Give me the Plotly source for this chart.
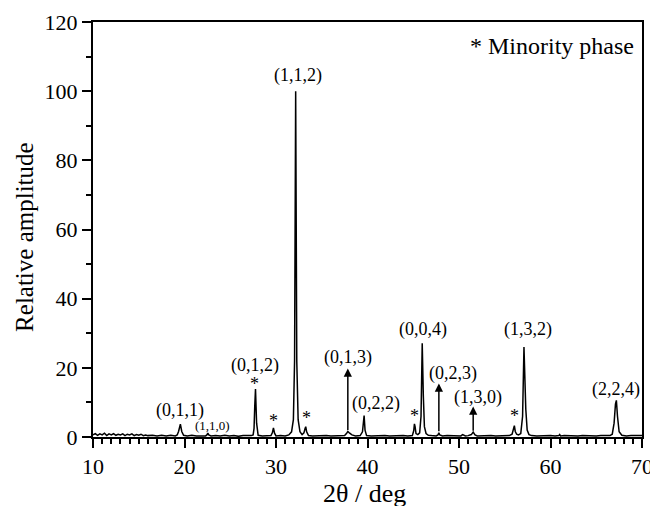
import plotly.graph_objects as go

# Diffraction trace (2theta in degrees, relative amplitude)
two_theta = [
    10.0, 10.25, 10.5, 10.75, 11.0, 11.25, 11.5, 11.75, 12.0, 12.25, 12.5, 12.75,
    13.0, 13.25, 13.5, 13.75, 14.0, 14.25, 14.5, 14.75, 15.0, 15.25, 15.5, 15.75,
    16.0, 16.5, 17.0, 17.5, 18.0, 18.5, 19.0,
    19.2, 19.35, 19.45, 19.55, 19.7, 19.9,
    20.3, 20.8, 21.3, 21.8, 22.3, 22.45, 22.55, 22.65, 22.9,
    23.4, 23.9, 24.4, 24.9, 25.4, 25.9, 26.4, 26.9, 27.3,
    27.5, 27.6, 27.68, 27.76, 27.88, 28.05,
    28.5, 29.0, 29.45, 29.6, 29.72, 29.84, 30.0,
    30.5, 31.0, 31.4, 31.7, 31.9, 32.03, 32.15, 32.27, 32.42, 32.62, 32.85,
    33.05, 33.17, 33.25, 33.35, 33.55,
    34.0, 34.5, 35.0, 35.5, 36.0, 36.5, 37.0, 37.5, 37.7, 37.85, 38.05, 38.3,
    38.7, 39.2, 39.45, 39.55, 39.63, 39.73, 39.9,
    40.4, 40.9, 41.4, 41.9, 42.4, 42.9, 43.4, 43.9, 44.4, 44.9,
    45.05, 45.13, 45.2, 45.3, 45.5, 45.7, 45.85, 45.98, 46.1, 46.22, 46.4, 46.65,
    47.0, 47.5, 47.7, 47.8, 47.9, 48.2,
    48.7, 49.2, 49.7, 50.2, 50.4, 50.55, 50.7, 51.0, 51.35, 51.55, 51.75, 52.0,
    52.5, 53.0, 53.5, 54.0, 54.5, 55.0, 55.5, 55.8, 55.95, 56.05, 56.15, 56.3, 56.5,
    56.75, 56.95, 57.1, 57.3, 57.45, 57.65, 57.95,
    58.5, 59.0, 59.5, 60.0, 60.5, 60.9, 61.0, 61.1, 61.5, 62.0, 62.5, 63.0, 63.5,
    64.0, 64.5, 65.0, 65.5, 66.0, 66.5, 66.75, 66.95, 67.1, 67.2, 67.32, 67.5, 67.8,
    68.3, 68.8, 69.3, 69.7, 70.0,
]
amplitude = [
    0.6, 1.0, 0.5, 0.9, 0.6, 1.1, 0.4, 0.9, 0.6, 1.0, 0.5, 0.8,
    0.6, 0.9, 0.4, 0.8, 0.6, 0.9, 0.4, 0.7, 0.5, 0.8, 0.4, 0.6,
    0.4, 0.5, 0.3, 0.5, 0.3, 0.5, 0.3,
    0.6, 1.6, 3.0, 3.7, 1.6, 0.5,
    0.3, 0.5, 0.3, 0.4, 0.3, 0.6, 1.1, 0.6, 0.3,
    0.4, 0.3, 0.5, 0.3, 0.4, 0.2, 0.4, 0.3, 0.4,
    0.6, 2.5, 9.0, 13.9, 4.0, 0.5,
    0.3, 0.4, 0.4, 1.2, 2.6, 1.1, 0.3,
    0.4, 0.3, 0.6, 1.5, 5.0, 22.0, 100.0, 22.0, 5.0, 1.5, 0.7,
    1.2, 2.4, 3.0, 1.5, 0.4,
    0.3, 0.4, 0.3, 0.4, 0.3, 0.4, 0.3, 0.4, 1.0, 1.6, 1.1, 0.6,
    0.3, 0.4, 1.5, 4.5, 6.2, 2.0, 0.4,
    0.3, 0.4, 0.3, 0.4, 0.3, 0.4, 0.3, 0.4, 0.3, 0.4,
    1.8, 3.8, 3.0, 1.0, 0.7, 1.2, 6.0, 27.1, 12.0, 3.0, 1.0, 0.5,
    0.4, 0.3, 0.6, 1.2, 0.6, 0.3,
    0.4, 0.3, 0.4, 0.3, 0.7, 0.5, 0.3, 0.4, 0.7, 1.4, 0.6, 0.3,
    0.4, 0.3, 0.4, 0.3, 0.4, 0.3, 0.4, 0.8, 2.4, 3.3, 1.6, 0.8, 0.6,
    1.0, 6.0, 26.0, 8.0, 2.0, 0.7, 0.4,
    0.3, 0.4, 0.3, 0.4, 0.3, 0.4, 0.7, 0.3, 0.4, 0.3, 0.4, 0.3, 0.4,
    0.3, 0.4, 0.3, 0.4, 0.3, 0.4, 0.8, 4.0, 9.5, 10.6, 6.0, 1.5, 0.5,
    0.3, 0.4, 0.3, 0.4, 0.4,
]

# Miller index labels: text, x, y (data coords), font size
label_text = ["(0,1,1)", "(1,1,0)", "(0,1,2)", "(1,1,2)", "(0,1,3)", "(0,2,2)",
              "(0,0,4)", "(0,2,3)", "(1,3,0)", "(1,3,2)", "(2,2,4)"]
label_x = [19.55, 23.1, 27.75, 32.4, 37.85, 40.9, 46.1, 49.3, 52.1, 57.5, 67.2]
label_y = [7.7, 3.3, 20.6, 104.5, 23.0, 9.8, 31.2, 18.3, 11.4, 31.0, 13.8]
label_size = [18, 13, 18, 18, 18, 18, 18, 18, 18, 18, 18]

# Minority-phase star markers
star_x = [27.68, 29.72, 33.3, 45.1, 56.05]
star_y = [15.2, 4.6, 5.5, 6.0, 6.0]

# Arrow indicators: x, base, tip
arrow_x = [37.85, 47.8, 51.55]
arrow_base = [1.6, 1.2, 1.4]
arrow_tip = [19.8, 15.5, 8.8]

FONT = "Liberation Serif"

fig = go.Figure()
fig.add_trace(go.Scatter(x=two_theta, y=amplitude, mode="lines",
                         line=dict(color="black", width=1.5), showlegend=False,
                         hoverinfo="skip"))

annotations = []
for t, x, y, s in zip(label_text, label_x, label_y, label_size):
    annotations.append(dict(x=x, y=y, xref="x", yref="y", text=t, showarrow=False,
                            font=dict(family=FONT, size=s, color="black")))
for x, y in zip(star_x, star_y):
    annotations.append(dict(x=x, y=y, xref="x", yref="y", text="*", showarrow=False,
                            font=dict(family=FONT, size=18, color="black")))
for x, b, t in zip(arrow_x, arrow_base, arrow_tip):
    annotations.append(dict(x=x, y=t, ax=x, ay=b, xref="x", yref="y",
                            axref="x", ayref="y", text="", showarrow=True,
                            arrowhead=2, arrowsize=1.1, arrowwidth=1.5,
                            arrowcolor="black"))
annotations.append(dict(x=69.3, y=113, xref="x", yref="y", text="* Minority phase",
                        showarrow=False, xanchor="right",
                        font=dict(family=FONT, size=24, color="black")))
annotations.append(dict(x=0.495, y=-0.135, xref="paper", yref="paper",
                        text="2θ / deg", showarrow=False, yanchor="middle",
                        font=dict(family=FONT, size=26, color="black")))
annotations.append(dict(x=-0.124, y=0.482, xref="paper", yref="paper",
                        text="Relative amplitude", showarrow=False, textangle=-90,
                        xanchor="center", yanchor="middle",
                        font=dict(family=FONT, size=25, color="black")))

fig.update_layout(
    width=650, height=506,
    margin=dict(l=93, r=8, t=22, b=69, autoexpand=False),
    paper_bgcolor="white", plot_bgcolor="white",
    font=dict(family=FONT, color="black"),
    annotations=annotations,
)
fig.update_xaxes(range=[10, 70], tickvals=[10, 20, 30, 40, 50, 60, 70],
                 ticks="outside", ticklen=9, tickwidth=2, tickcolor="black",
                 minor=dict(dtick=1, tick0=10, ticks="outside", ticklen=5,
                            tickwidth=1.5, tickcolor="black"),
                 showline=True, linecolor="black", linewidth=2, mirror=True,
                 showgrid=False, zeroline=False, ticklabeloverflow="allow",
                 automargin=False,
                 tickfont=dict(family=FONT, size=22, color="black"))
fig.update_yaxes(range=[0, 120], tickvals=[0, 20, 40, 60, 80, 100, 120],
                 ticks="outside", ticklen=9, tickwidth=2, tickcolor="black",
                 minor=dict(dtick=10, tick0=0, ticks="outside", ticklen=5,
                            tickwidth=1.5, tickcolor="black"),
                 showline=True, linecolor="black", linewidth=2, mirror=True,
                 showgrid=False, zeroline=False, automargin=False,
                 tickfont=dict(family=FONT, size=22, color="black"))

fig.write_html("out.html")
